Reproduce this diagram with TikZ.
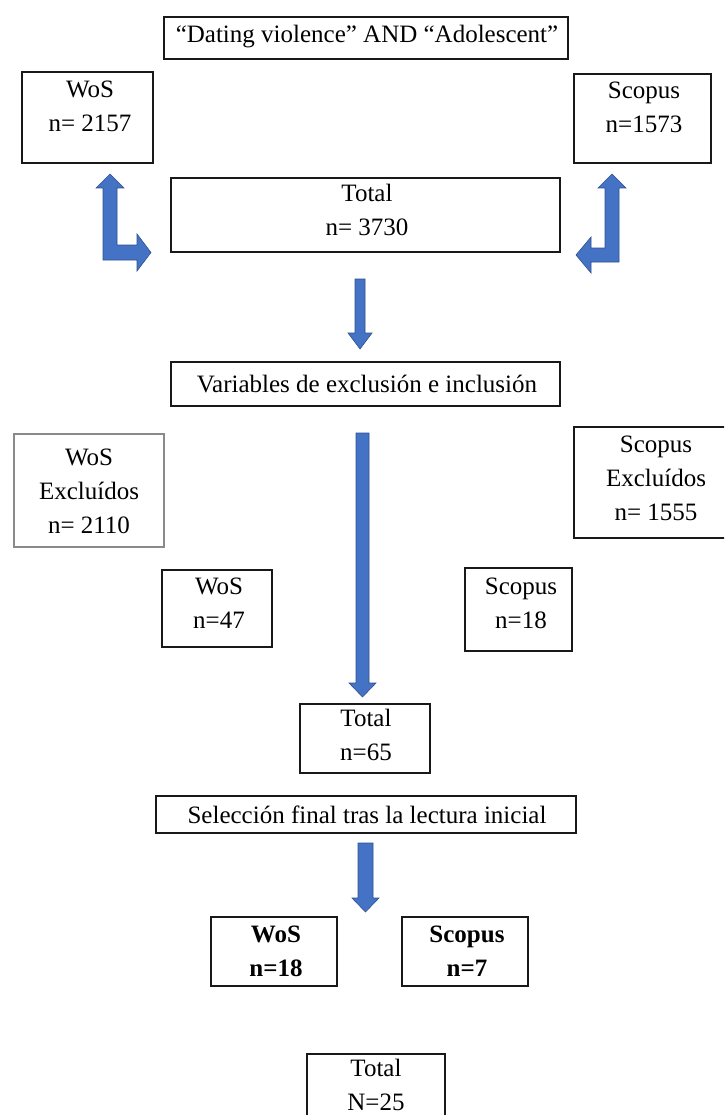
\documentclass[tikz,border=0pt]{standalone}
\usepackage{fontspec}
\setmainfont{Liberation Serif}
\definecolor{arrblue}{HTML}{4472C4}
\definecolor{arredge}{HTML}{2F528F}
\definecolor{boxgrey}{HTML}{8A8A8A}
\tikzset{
  bx/.style={draw=black!90, line width=1.6pt, inner sep=0pt},
  gbx/.style={draw=boxgrey, line width=1.4pt, inner sep=0pt},
  txt/.style={inner sep=0pt, align=center, font=\fontsize{25}{34}\selectfont},
  btxt/.style={txt, font=\fontsize{25}{34}\selectfont\bfseries},
  blk/.style={fill=arrblue, draw=arredge, line width=0.6pt, line join=miter},
}
% name, x1, y1, x2, y2, style
\newcommand\mybox[6]{%
  \node[#6, minimum width={(#4-#2)*1pt}, minimum height={(#5-#3)*1pt}] (#1) at ({(#2+#4)/2},{(#3+#5)/2}) {};}
\begin{document}
\begin{tikzpicture}[x=1pt,y=-1pt]
\useasboundingbox (0,0) rectangle (724,1115);
\clip (0,0) rectangle (724,1115);
\fill[white] (0,0) rectangle (724,1115);

% boxes
\mybox{query}{164}{17}{568}{59}{bx}
\mybox{wos1}{22}{72}{153}{163}{bx}
\mybox{sco1}{574}{74}{711}{163}{bx}
\mybox{tot1}{171}{178}{560}{252}{bx}
\mybox{vars}{171}{362}{560}{406}{bx}
\mybox{wosex}{14}{434}{164}{547}{gbx}
\mybox{scoex}{574}{427}{726}{538}{bx}
\mybox{wos2}{162}{570}{272}{647}{bx}
\mybox{sco2}{465}{568}{572}{651}{bx}
\mybox{tot2}{300}{704}{430}{773}{bx}
\mybox{sel}{156}{796}{576}{833}{bx}
\mybox{wos3}{211}{917}{337}{986}{bx}
\mybox{sco3}{402}{917}{528}{986}{bx}
\mybox{tot3}{307}{1054}{445}{1130}{bx}

% texts
\node[txt] (query-t) at (367,37) {“Dating violence” AND “Adolescent”};
\node[txt] (wos1-t) at (90,106) {WoS\\n= 2157};
\node[txt] (sco1-t) at (644,107) {Scopus\\n=1573};
\node[txt] (tot1-t) at (367,210) {Total\\n= 3730};
\node[txt] (vars-t) at (367,384) {Variables de exclusión e inclusión};
\node[txt] (wosex-t) at (89,491) {WoS\\Excluídos\\n= 2110};
\node[txt] (scoex-t) at (656,478) {Scopus\\Excluídos\\n= 1555};
\node[txt] (wos2-t) at (219,603) {WoS\\n=47};
\node[txt] (sco2-t) at (521,603) {Scopus\\n=18};
\node[txt] (tot2-t) at (366,735) {Total\\n=65};
\node[txt] (sel-t) at (367,814.5) {Selección final tras la lectura inicial};
\node[btxt] (wos3-t) at (276,951.5) {WoS\\n=18};
\node[btxt] (sco3-t) at (467,951.5) {Scopus\\n=7};
\node[txt] (tot3-t) at (376,1085) {Total\\N=25};

% elbow arrows
\draw[blk] (103,188) -- (96,188) -- (110,174) -- (124,188) -- (117,188) -- (117,245)
  -- (137,245) -- (137,234) -- (151,252.5) -- (137,271) -- (137,260) -- (103,260) -- cycle;
\draw[blk] (619,188) -- (626,188) -- (612,174) -- (598,188) -- (605,188) -- (605,248)
  -- (591,248) -- (591,237) -- (576,255) -- (591,273) -- (591,262) -- (619,262) -- cycle;

% straight block arrows
\draw[blk] (355,279) -- (365,279) -- (365,333) -- (372,333) -- (360,349) -- (348,333) -- (355,333) -- cycle;
\draw[blk] (356,433) -- (369,433) -- (369,683) -- (376,683) -- (362.5,697) -- (349,683) -- (356,683) -- cycle;
\draw[blk] (358,843) -- (373,843) -- (373,898) -- (379,898) -- (365.5,912) -- (352,898) -- (358,898) -- cycle;
\end{tikzpicture}
\end{document}
